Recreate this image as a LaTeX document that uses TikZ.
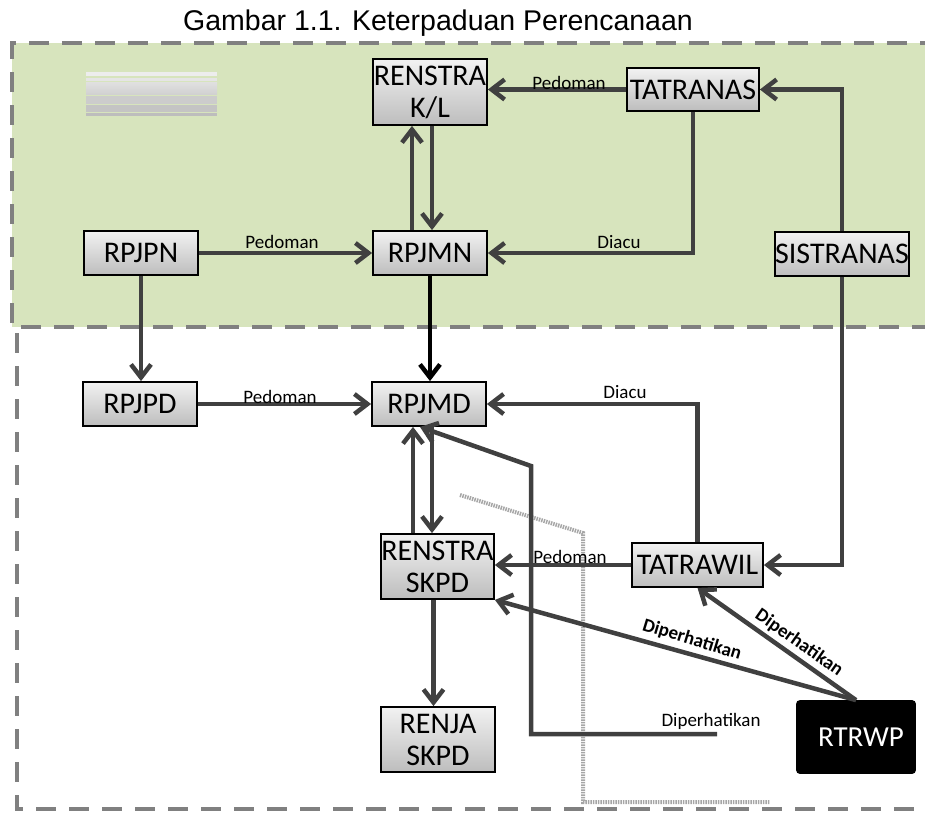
\documentclass[tikz,border=0pt]{standalone}
\usepackage{fontspec}
\setmainfont{Carlito}
\newfontfamily\titlefont{Liberation Sans}
\usetikzlibrary{arrows.meta,calc}
\definecolor{gfill}{HTML}{D7E4BD}
\definecolor{gline}{HTML}{404040}
\definecolor{dashc}{HTML}{808080}
\definecolor{boxtop}{HTML}{F2F2F2}
\definecolor{boxbot}{HTML}{BDBDBD}
\begin{document}
\begin{tikzpicture}[x=1pt,y=-1pt,
  box/.style={draw=black, line width=1.8pt, top color=boxtop, bottom color=boxbot,
    inner sep=0pt, font=\fontsize{30}{32}\selectfont, align=center},
  arr/.style={draw=gline, line width=4.5pt, -{Straight Barb[length=13pt,width=20pt]}},
  barr/.style={draw=black, line width=4.5pt, -{Straight Barb[length=13pt,width=20pt]}},
  lbl/.style={font=\fontsize{19}{21}\selectfont, inner sep=0pt},
  blbl/.style={font=\fontsize{19}{21}\selectfont\bfseries, inner sep=0pt},
  dashbord/.style={draw=dashc, line width=4.5pt, dash pattern=on 20pt off 13pt},
  shadowline/.style={draw=black!35, line width=4pt, dash pattern=on 1.5pt off 1pt}
]
\useasboundingbox (0,0) rectangle (925,814);
\clip (0,0) rectangle (925,814);

% title
\node[font=\titlefont\fontsize{28.5}{30}\selectfont, anchor=base, inner sep=0pt] (title) at (438,30) {Gambar 1.1. Keterpaduan Perencanaan};

% regions
\fill[gfill] (12,43) rectangle (940,327);
\draw[dashbord] (940,43) -- (12,43) -- (12,327) -- (940,327);
\draw[dashbord] (17,333) -- (17,809) -- (940,809);

% legend-like stripes
\fill[fill=black!7] (86,72) rectangle (217,76);
\fill[fill=black!10] (86,78) rectangle (217,81);
\shade[top color=black!12, bottom color=black!18] (86,82) rectangle (217,94);
\fill[fill=black!20] (86,96) rectangle (217,104);
\fill[fill=black!23] (86,105) rectangle (217,112);
\fill[fill=black!26] (86,113) rectangle (217,116);

% faint shadow path
\draw[shadowline] (460,495) -- (583,533) -- (583,802) -- (770,802);

% nodes
\node[box, minimum width=114pt, minimum height=66pt] (renkl) at (430,92) {RENSTRA\\K/L};
\node[box, minimum width=132pt, minimum height=43pt] (tatranas) at (693,89.5) {TATRANAS};
\node[box, minimum width=114pt, minimum height=44pt] (rpjpn) at (141,253) {RPJPN};
\node[box, minimum width=114pt, minimum height=44pt] (rpjmn) at (430,253) {RPJMN};
\node[box, minimum width=132pt, minimum height=44pt] (sistranas) at (842,254) {SISTRANAS};
\node[box, minimum width=114pt, minimum height=44pt] (rpjpd) at (140,404) {RPJPD};
\node[box, minimum width=114pt, minimum height=44pt] (rpjmd) at (429,404) {RPJMD};
\node[box, minimum width=113pt, minimum height=65pt] (rskpd) at (437.5,566.5) {RENSTRA\\SKPD};
\node[box, minimum width=131pt, minimum height=44pt] (tatrawil) at (697.5,565) {TATRAWIL};
\node[box, minimum width=114pt, minimum height=65pt] (renja) at (438,739.5) {RENJA\\SKPD};
\node[draw=black, fill=black, line width=1.8pt, rounded corners=3pt, text=white,
  inner sep=0pt, minimum width=118pt, minimum height=72pt,
  font=\fontsize{29}{32}\selectfont] (rtrwp) at (856,737) {\hspace*{10pt}RTRWP};

% connectors
\draw[arr] (tatranas.west) -- (tatranas.west -| renkl.east);
\draw[arr] ([xshift=-18pt]rpjmn.north) -- ([xshift=-18pt]renkl.south);
\draw[arr] ([xshift=2pt]renkl.south) -- ([xshift=2pt]rpjmn.north);
\draw[arr] (rpjpn.east) -- (rpjmn.west);
\draw[arr] (tatranas.south) |- (rpjmn.east);
\draw[arr] (sistranas.north) |- (tatranas.east);
\draw[arr] (rpjpn.south) -- (rpjpn.south |- rpjpd.north);
\draw[barr] (rpjmn.south) -- (rpjmn.south |- rpjmd.north);
\draw[arr] (rpjpd.east) -- (rpjmd.west);
\draw[arr] (tatrawil.north) |- (rpjmd.east);
\draw[arr] ([xshift=3pt]rpjmd.south) -- ([xshift=3pt]rpjmd.south |- rskpd.north);
\draw[arr] ([xshift=-16pt]rpjmd.south |- rskpd.north) -- ([xshift=-16pt]rpjmd.south);
\draw[arr] (tatrawil.west) -- (tatrawil.west -| rskpd.east);
\draw[arr] (sistranas.south) |- (tatrawil.east);
\draw[arr] ([xshift=-4pt]rskpd.south) -- ([xshift=-4pt]rskpd.south |- renja.north);
\draw[arr] (rtrwp.north) -- (tatrawil.south);
\draw[arr] (rtrwp.north) -- (rskpd.south east);
\coordinate (dpend) at (717,734);
\draw[arr] (dpend) -- (531,734) -- (531,466) -- ([xshift=-9pt]rpjmd.south);

% labels
\node[lbl] (l1) at (569,83) {Pedoman};
\node[lbl] (l2) at (282,242) {Pedoman};
\node[lbl] (l3) at (619,242) {Diacu};
\node[lbl] (l4) at (280,397) {Pedoman};
\node[lbl] (l5) at (625,392) {Diacu};
\node[lbl] (l6) at (570,557) {Pedoman};
\node[lbl] (l7) at (711,721) {Diperhatikan};
\node[blbl, rotate=-17] (l8) at (692,640) {Diperhatikan};
\node[blbl, rotate=-35] (l9) at (799,643) {Diperhatikan};
\end{tikzpicture}
\end{document}
